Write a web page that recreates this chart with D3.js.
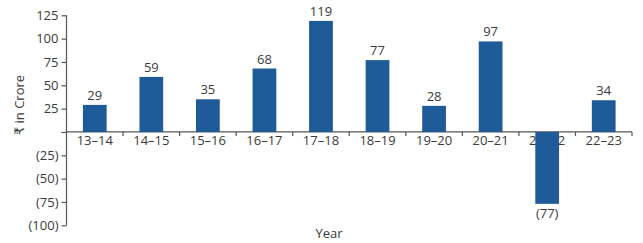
<!DOCTYPE html>
<html>
<head>
<meta charset="utf-8">
<script src="https://cdn.jsdelivr.net/npm/d3@7"></script>
<style>
  html, body { margin: 0; padding: 0; background: #ffffff; }
  svg { display: block; font-family: "Open Sans", "DejaVu Sans", sans-serif; }
  text { fill: #3a3a3a; }
</style>
</head>
<body>
<svg id="chart" width="643" height="243"></svg>
<script>
const categories = ["13–14","14–15","15–16","16–17","17–18","18–19","19–20","20–21","21–22","22–23"];
const values = [29, 59, 35, 68, 119, 77, 28, 97, -77, 34];
const yTicks = [125, 100, 75, 50, 25, 0, -25, -50, -75, -100];
const yLabel = "₹ in Crore";
const xLabel = "Year";

(function () {
const svg = d3.select("#chart");
const mLeft = 66.5, mRight = 632, mTop = 15.3, mBottom = 225.3;
const barColor = "#1f5b98";
const axisColor = "#555";

const y = d3.scaleLinear().domain([-100, 125]).range([mBottom, mTop]);
const x = d3.scaleBand().domain(categories).range([mLeft, mRight]).paddingInner(0.58).paddingOuter(0.29);
const xb = d3.scaleBand().domain(categories).range([mLeft, mRight]).padding(0);

const fmt = v => v < 0 ? `(${Math.abs(v)})` : (v === 0 ? "" : String(v));

// Y axis
const yAxis = d3.axisLeft(y).tickValues(yTicks).tickFormat(fmt).tickSize(5).tickPadding(3);
const gy = svg.append("g").attr("transform", `translate(${mLeft},0)`).call(yAxis);
gy.attr("font-family", null).attr("font-size", null);
gy.select(".domain").attr("stroke", axisColor).attr("stroke-width", 1.2).attr("d", `M0,${mTop}V${mBottom}`);
gy.selectAll(".tick line").attr("stroke", axisColor).attr("stroke-width", 1.2);
gy.selectAll(".tick text").style("font-size", "13px").attr("fill", "#3a3a3a");

// X axis baseline
const y0 = y(0);
svg.append("line").attr("x1", mLeft).attr("x2", mRight).attr("y1", y0).attr("y2", y0)
  .attr("stroke", axisColor).attr("stroke-width", 1.2);

// boundary ticks
svg.append("g").selectAll("line").data(categories).join("line")
  .attr("x1", d => xb(d) + xb.bandwidth()).attr("x2", d => xb(d) + xb.bandwidth())
  .attr("y1", y0).attr("y2", y0 + 4)
  .attr("stroke", axisColor).attr("stroke-width", 1.2);

// x labels
svg.append("g").selectAll("text").data(categories).join("text")
  .attr("x", d => x(d) + x.bandwidth() / 2)
  .attr("y", y0 + 13)
  .attr("text-anchor", "middle")
  .style("font-size", "13px")
  .text(d => d);

// bars (drawn over labels)
svg.append("g").selectAll("rect").data(values).join("rect")
  .attr("x", (d, i) => x(categories[i]))
  .attr("width", x.bandwidth())
  .attr("y", d => y(Math.max(0, d)))
  .attr("height", d => Math.abs(y(d) - y(0)))
  .attr("fill", barColor);

// value labels
svg.append("g").selectAll("text").data(values).join("text")
  .attr("x", (d, i) => x(categories[i]) + x.bandwidth() / 2)
  .attr("y", d => d >= 0 ? y(d) - 5 : y(d) + 14.5)
  .attr("text-anchor", "middle")
  .style("font-size", "13px")
  .text(d => fmt(d));

// axis titles
svg.append("text")
  .attr("x", 329)
  .attr("y", 237.5)
  .attr("text-anchor", "middle")
  .style("font-size", "13px")
  .text(xLabel);

svg.append("text")
  .attr("transform", `translate(23.5,105) rotate(-90)`)
  .attr("text-anchor", "middle")
  .style("font-size", "13px")
  .text(yLabel);
})();
</script>
</body>
</html>
